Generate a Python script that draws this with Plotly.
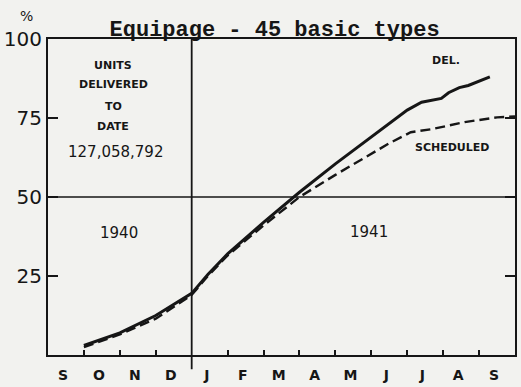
import plotly.graph_objects as go

# Month index: 0 = 1 Sep 1940 ... 13 = 1 Oct 1941
month_labels = ["S", "O", "N", "D", "J", "F", "M", "A", "M", "J", "J", "A", "S"]
month_bounds = [1, 2, 3, 5, 6, 7, 8, 9, 10, 11, 12]

# Cumulative percent of the 45 basic types delivered
delivered_month = [1.0, 2.0, 3.0, 4.0, 4.45, 5.0, 6.0, 7.0, 8.0, 9.0, 10.0,
                   10.4, 10.95, 11.15, 11.45, 11.7, 12.3]
delivered_pct = [3.0, 7.0, 12.5, 19.5, 25.5, 32.0, 42.0, 51.5, 60.5, 69.0, 77.5,
                 80.0, 81.2, 83.0, 84.6, 85.3, 88.0]

# Cumulative percent scheduled
scheduled_month = [1.0, 2.0, 3.0, 4.0, 4.45, 5.0, 6.0, 6.4, 7.0, 8.0, 9.0,
                   9.5, 10.1, 10.7, 11.6, 12.5, 13.0]
scheduled_pct = [2.5, 6.5, 11.5, 19.0, 25.0, 31.5, 41.0, 44.5, 50.0, 57.0, 63.7,
                 67.0, 70.5, 71.5, 73.7, 75.2, 75.5]

y_ticks = [25, 50, 75, 100]

INK = "#161616"
PAPER = "#f2f2ef"

fig = go.Figure()

fig.add_trace(go.Scatter(
    x=scheduled_month, y=scheduled_pct, mode="lines",
    line=dict(color=INK, width=2.4, dash="10px,5px"),
    showlegend=False, hoverinfo="skip",
))
fig.add_trace(go.Scatter(
    x=delivered_month, y=delivered_pct, mode="lines",
    line=dict(color=INK, width=3),
    showlegend=False, hoverinfo="skip",
))

# 50% reference line and the year divider at 1 Jan 1941
fig.add_shape(type="line", xref="paper", yref="y", x0=0, x1=1, y0=50, y1=50,
              line=dict(color=INK, width=1.3))
fig.add_shape(type="line", xref="x", yref="paper", x0=4, x1=4, y0=-0.045, y1=1,
              line=dict(color=INK, width=1.8))

lettering = "DejaVu Sans"
notes = [
    ("UNITS", 1.81, 91.5, 11, "bold"),
    ("DELIVERED", 1.81, 85.6, 11, "bold"),
    ("TO", 1.81, 78.7, 11, "bold"),
    ("DATE", 1.81, 72.4, 11, "bold"),
    ("127,058,792", 1.87, 64.3, 15, "normal"),
    ("1940", 1.98, 38.6, 15, "normal"),
    ("1941", 8.93, 38.9, 15, "normal"),
    ("DEL.", 11.07, 93.1, 11, "bold"),
    ("SCHEDULED", 11.24, 65.8, 11, "bold"),
]
for text, x, y, size, weight in notes:
    fig.add_annotation(x=x, y=y, xref="x", yref="y", text=text, showarrow=False,
                       xanchor="center", yanchor="middle",
                       font=dict(family=lettering, size=size, color=INK, weight=weight))

fig.add_annotation(x=-0.0465, y=1.072, xref="paper", yref="paper", text="%",
                   showarrow=False, xanchor="center", yanchor="middle",
                   font=dict(family=lettering, size=14, color=INK))

fig.update_layout(
    width=521, height=387,
    margin=dict(l=44, r=4, t=39, b=29),
    paper_bgcolor=PAPER, plot_bgcolor=PAPER,
    title=dict(text="Equipage - 45 basic types", x=0.527, xanchor="center",
               y=0.928, yanchor="middle", xref="container", yref="container",
               font=dict(family="Liberation Mono", size=22, color=INK, weight="bold")),
    xaxis=dict(
        range=[0, 13], showgrid=False, zeroline=False,
        showline=True, mirror=True, linecolor=INK, linewidth=2,
        tickmode="array", tickvals=[i + 0.42 for i in range(len(month_labels))],
        ticktext=month_labels, ticks="", ticklabelstandoff=6,
        tickfont=dict(family=lettering, size=14, color=INK, weight="bold"),
        minor=dict(tickmode="array", tickvals=month_bounds, ticks="inside",
                   ticklen=5, tickwidth=1.5, tickcolor=INK),
    ),
    yaxis=dict(
        range=[0, 100], showgrid=False, zeroline=False,
        showline=True, mirror="ticks", linecolor=INK, linewidth=2,
        tickmode="array", tickvals=y_ticks, ticktext=[str(v) for v in y_ticks],
        ticks="inside", ticklen=10, tickwidth=1.5, tickcolor=INK,
        tickfont=dict(family=lettering, size=20, color=INK),
    ),
)

fig.write_html("out.html")
